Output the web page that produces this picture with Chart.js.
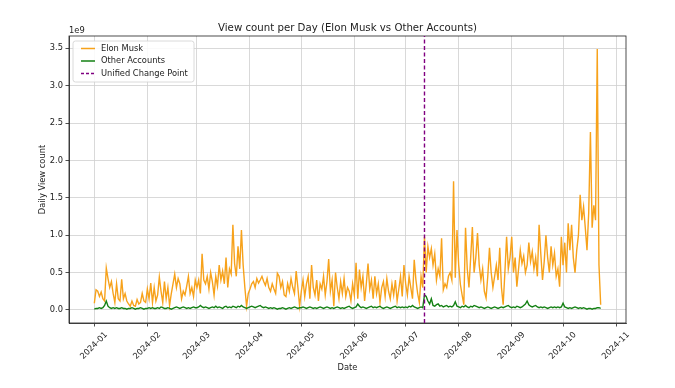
<!DOCTYPE html>
<html>
<head>
<meta charset="utf-8">
<script src="https://cdn.jsdelivr.net/npm/chart.js@4.4.1/dist/chart.umd.min.js"></script>
<style>
  html, body { margin: 0; padding: 0; background: #fff; }
  #wrap { width: 675px; height: 388px; }
</style>
</head>
<body>
<div id="wrap"><canvas id="chart" width="675" height="388"></canvas></div>
<script>
// daily views, in billions (1e9), starting 2024-01-01
const startDate = '2024-01-01';
const changePointDate = '2024-07-12';

const elonViews = [
  // Jan
  0.09,0.27,0.25,0.18,0.24,0.15,0.12,0.56,0.42,0.30,0.38,0.22,0.10,0.35,0.15,0.12,0.41,0.15,0.22,0.12,0.08,0.05,0.12,0.06,0.05,0.14,0.08,0.10,0.22,0.12,0.10,
  // Feb
  0.28,0.15,0.36,0.10,0.30,0.12,0.20,0.44,0.25,0.10,0.38,0.15,0.30,0.06,0.22,0.35,0.48,0.30,0.42,0.35,0.15,0.25,0.20,0.32,0.45,0.22,0.30,0.18,0.40,
  // Mar
  0.30,0.40,0.22,0.75,0.40,0.35,0.45,0.28,0.50,0.38,0.20,0.45,0.32,0.60,0.40,0.52,0.35,0.70,0.30,0.55,0.48,1.14,0.62,0.45,0.85,0.55,1.07,0.60,0.30,0.05,0.22,
  // Apr
  0.28,0.35,0.38,0.30,0.42,0.36,0.40,0.45,0.38,0.33,0.42,0.30,0.25,0.35,0.28,0.22,0.49,0.45,0.30,0.38,0.20,0.18,0.35,0.25,0.42,0.30,0.22,0.52,0.30,0.05,
  // May
  0.25,0.40,0.18,0.35,0.45,0.15,0.60,0.30,0.20,0.40,0.12,0.35,0.28,0.45,0.20,0.38,0.68,0.25,0.40,0.05,0.50,0.30,0.15,0.38,0.22,0.42,0.18,0.30,0.25,0.12,0.35,
  // Jun
  0.20,0.63,0.15,0.54,0.30,0.45,0.12,0.35,0.62,0.28,0.40,0.15,0.45,0.22,0.35,0.10,0.30,0.38,0.18,0.42,0.25,0.15,0.35,0.20,0.40,0.12,0.28,0.45,0.18,0.60,
  // Jul
  0.35,0.20,0.45,0.30,0.15,0.67,0.40,0.22,0.10,0.45,0.30,0.98,0.50,0.85,0.70,0.82,0.60,0.75,0.40,0.55,0.45,0.96,0.27,0.35,0.30,0.45,0.50,0.40,1.72,0.43,1.07,
  // Aug
  0.60,0.34,0.20,0.07,1.10,0.55,0.30,0.70,1.11,0.50,0.70,1.03,0.60,0.40,0.55,0.25,0.16,0.45,0.83,0.50,0.30,0.45,0.60,0.40,0.83,0.30,0.07,0.50,0.98,0.55,0.70,
  // Sep
  0.98,0.50,0.70,0.31,0.55,0.80,0.62,0.72,0.50,0.60,0.90,0.65,0.78,0.55,0.70,0.45,1.14,0.75,0.40,0.65,1.00,0.70,0.50,0.85,0.60,0.76,0.45,0.55,0.31,0.98,
  // Oct
  0.60,0.90,0.50,1.16,0.80,1.14,0.70,0.50,0.80,1.00,1.54,1.20,1.38,1.10,0.80,1.30,2.38,1.10,1.40,1.20,3.49,0.60,0.07
];

const otherViews = [
  // Jan
  0.01,0.02,0.02,0.03,0.02,0.03,0.06,0.12,0.05,0.03,0.02,0.03,0.02,0.03,0.02,0.02,0.03,0.02,0.02,0.01,0.02,0.02,0.03,0.02,0.01,0.02,0.02,0.03,0.02,0.01,0.02,
  // Feb
  0.02,0.03,0.02,0.03,0.02,0.02,0.03,0.02,0.04,0.03,0.02,0.02,0.03,0.02,0.01,0.02,0.03,0.04,0.03,0.02,0.03,0.04,0.03,0.02,0.03,0.02,0.03,0.04,0.03,
  // Mar
  0.03,0.04,0.06,0.04,0.03,0.04,0.03,0.02,0.03,0.04,0.03,0.05,0.03,0.04,0.03,0.02,0.04,0.05,0.03,0.04,0.03,0.05,0.04,0.03,0.05,0.04,0.06,0.04,0.03,0.02,0.03,
  // Apr
  0.04,0.05,0.04,0.03,0.04,0.05,0.06,0.04,0.03,0.04,0.03,0.02,0.03,0.02,0.03,0.02,0.01,0.02,0.02,0.03,0.02,0.01,0.02,0.03,0.02,0.03,0.04,0.03,0.02,0.03,
  // May
  0.03,0.04,0.03,0.02,0.03,0.04,0.03,0.02,0.03,0.02,0.03,0.04,0.03,0.02,0.03,0.04,0.03,0.02,0.03,0.02,0.03,0.04,0.03,0.02,0.03,0.02,0.03,0.04,0.05,0.03,0.02,
  // Jun
  0.03,0.04,0.08,0.05,0.03,0.04,0.03,0.02,0.03,0.04,0.05,0.03,0.04,0.03,0.04,0.05,0.03,0.02,0.03,0.04,0.03,0.02,0.03,0.04,0.05,0.03,0.04,0.03,0.04,0.03,
  // Jul
  0.04,0.03,0.05,0.04,0.06,0.04,0.03,0.02,0.03,0.04,0.03,0.20,0.18,0.12,0.08,0.15,0.06,0.05,0.07,0.08,0.05,0.06,0.04,0.05,0.06,0.04,0.05,0.04,0.06,0.11,0.05,
  // Aug
  0.04,0.03,0.05,0.04,0.06,0.04,0.03,0.05,0.04,0.06,0.05,0.04,0.03,0.04,0.03,0.02,0.03,0.04,0.03,0.02,0.03,0.04,0.03,0.02,0.03,0.04,0.03,0.04,0.05,0.06,0.04,
  // Sep
  0.03,0.04,0.03,0.05,0.04,0.03,0.04,0.06,0.08,0.12,0.07,0.05,0.04,0.05,0.06,0.04,0.03,0.04,0.03,0.04,0.03,0.02,0.03,0.04,0.03,0.04,0.03,0.04,0.03,0.04,
  // Oct
  0.09,0.04,0.03,0.02,0.03,0.02,0.03,0.04,0.03,0.02,0.03,0.02,0.03,0.02,0.01,0.02,0.02,0.01,0.02,0.02,0.03,0.03,0.02
];

const monthLabels = ['2024-01','2024-02','2024-03','2024-04','2024-05','2024-06',
                     '2024-07','2024-08','2024-09','2024-10','2024-11'];
const yTicks = [0, 0.5, 1.0, 1.5, 2.0, 2.5, 3.0, 3.5];

const seriesNames = ['Elon Musk', 'Other Accounts', 'Unified Change Point'];
const seriesColors = ['#f7a21b', '#138013', '#800080'];

const FONT = '"DejaVu Sans", sans-serif';
const SMALL = 8.3;
const dayMs = 864e5;
const t0 = Date.parse(startDate);
const dayOf = s => Math.round((Date.parse(s) - t0) / dayMs);
const monthDays = monthLabels.map(m => dayOf(m + '-01'));
const changeDay = dayOf(changePointDate);

// matplotlib-like 5% margins
const nDays = elonViews.length - 1;
const xMin = -nDays * 0.05, xMax = nDays * 1.05;
const yHi = Math.max(...elonViews);
const yMin = -yHi * 0.05, yMax = yHi * 1.05;

const toPoints = arr => arr.map((v, i) => ({ x: i, y: v }));

const chromePlugin = {
  id: 'chrome',
  beforeDatasetsDraw(chart) {
    const { ctx, chartArea: a } = chart;
    ctx.save();
    ctx.strokeStyle = '#222';
    ctx.lineWidth = 0.8;
    ctx.strokeRect(a.left, a.top, a.right - a.left, a.bottom - a.top);
    ctx.restore();
  },
  afterDraw(chart) {
    const { ctx, chartArea: a, scales } = chart;
    ctx.save();
    ctx.fillStyle = '#222';

    // title
    ctx.font = '10.2px ' + FONT;
    ctx.textAlign = 'center';
    ctx.textBaseline = 'alphabetic';
    ctx.fillText('View count per Day (Elon Musk vs Other Accounts)', (a.left + a.right) / 2, 31);

    // offset text
    ctx.font = SMALL + 'px ' + FONT;
    ctx.textAlign = 'left';
    ctx.fillText('1e9', a.left, 33);

    // axis titles
    ctx.textAlign = 'center';
    ctx.fillText('Date', (a.left + a.right) / 2, 370);
    ctx.save();
    ctx.translate(45, (a.top + a.bottom) / 2);
    ctx.rotate(-Math.PI / 2);
    ctx.fillText('Daily View count', 0, 0);
    ctx.restore();

    // rotated x tick labels, centred on the tick like matplotlib
    ctx.textAlign = 'left';
    ctx.textBaseline = 'top';
    const c = Math.SQRT1_2, h = 9;
    monthLabels.forEach((lab, i) => {
      const px = scales.x.getPixelForValue(monthDays[i]);
      const w = ctx.measureText(lab).width;
      ctx.save();
      ctx.translate(px - c * (w + h) / 2, a.bottom + 7.5 + c * w);
      ctx.rotate(-Math.PI / 4);
      ctx.fillText(lab, 0, 0);
      ctx.restore();
    });

    // legend
    const lx = a.left + 4, ly = a.top + 5, lw = 121, lh = 41;
    ctx.fillStyle = 'rgba(255,255,255,0.85)';
    ctx.strokeStyle = '#d0d0d0';
    ctx.lineWidth = 0.8;
    ctx.beginPath();
    ctx.roundRect(lx, ly, lw, lh, 2.5);
    ctx.fill();
    ctx.stroke();
    ctx.textBaseline = 'middle';
    seriesNames.forEach((name, i) => {
      const y = ly + 7.5 + i * 12.5;
      ctx.strokeStyle = seriesColors[i];
      ctx.lineWidth = 1.5;
      ctx.setLineDash(i === 2 ? [3, 2] : []);
      ctx.beginPath();
      ctx.moveTo(lx + 8, y);
      ctx.lineTo(lx + 22, y);
      ctx.stroke();
      ctx.setLineDash([]);
      ctx.fillStyle = '#222';
      ctx.fillText(name, lx + 28, y);
    });
    ctx.restore();
  }
};

new Chart(document.getElementById('chart'), {
  type: 'line',
  data: {
    datasets: [
      {
        label: seriesNames[0],
        data: toPoints(elonViews),
        borderColor: seriesColors[0],
        borderWidth: 1.4,
        pointRadius: 0,
        tension: 0,
        order: 3
      },
      {
        label: seriesNames[1],
        data: toPoints(otherViews),
        borderColor: seriesColors[1],
        borderWidth: 1.4,
        pointRadius: 0,
        tension: 0,
        order: 2
      },
      {
        label: seriesNames[2],
        data: [{ x: changeDay, y: yMin }, { x: changeDay, y: yMax }],
        borderColor: seriesColors[2],
        borderWidth: 1.4,
        borderDash: [4, 2.5],
        pointRadius: 0,
        order: 1
      }
    ]
  },
  options: {
    responsive: false,
    animation: false,
    devicePixelRatio: 1,
    layout: { padding: { left: 0, right: 49, top: 36, bottom: 0 } },
    plugins: { legend: { display: false }, tooltip: { enabled: false } },
    scales: {
      x: {
        type: 'linear',
        min: xMin,
        max: xMax,
        afterBuildTicks: s => { s.ticks = monthDays.map(v => ({ value: v })); },
        afterFit: s => { s.height = 65; },
        ticks: { display: false },
        grid: { color: '#cfcfcf', lineWidth: 0.8, tickLength: 3.5, tickColor: '#222' },
        border: { display: true, color: '#222', width: 0.8 }
      },
      y: {
        min: yMin,
        max: yMax,
        afterBuildTicks: s => { s.ticks = yTicks.map(v => ({ value: v })); },
        afterFit: s => { s.width = 69; },
        ticks: {
          font: { family: FONT, size: SMALL },
          color: '#222',
          padding: 2.5,
          callback: v => v.toFixed(1)
        },
        grid: { color: '#cfcfcf', lineWidth: 0.8, tickLength: 3.5, tickColor: '#222' },
        border: { display: true, color: '#222', width: 0.8 }
      }
    }
  },
  plugins: [chromePlugin]
});
</script>
</body>
</html>
